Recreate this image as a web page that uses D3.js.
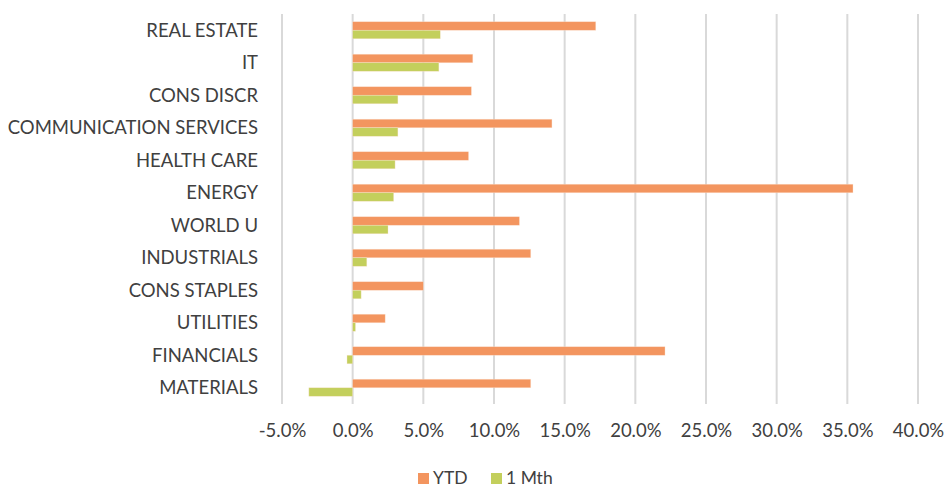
<!DOCTYPE html>
<html>
<head>
<meta charset="utf-8">
<script src="https://cdn.jsdelivr.net/npm/d3@7"></script>
<style>
    html, body { margin: 0; padding: 0; background: #fff; }
    svg text { font-family: Lato, "Noto Sans", sans-serif; fill: #404040; }
</style>
</head>
<body>
<svg id="chart" width="948" height="486"></svg>
<script>

// Sectors, top to bottom as they appear in the chart.
const categories = [
    'REAL ESTATE', 'IT', 'CONS DISCR', 'COMMUNICATION SERVICES', 'HEALTH CARE', 'ENERGY',
    'WORLD U', 'INDUSTRIALS', 'CONS STAPLES', 'UTILITIES', 'FINANCIALS', 'MATERIALS'
];

const seriesNames = ['YTD', '1 Mth'];

// Returns in percent.
const ytdValues = [17.2, 8.5, 8.4, 14.1, 8.2, 35.4, 11.8, 12.6, 5.0, 2.3, 22.1, 12.6];
const monthValues = [6.2, 6.1, 3.2, 3.2, 3.0, 2.9, 2.5, 1.0, 0.6, 0.2, -0.4, -3.1];

const tickValues = [-5, 0, 5, 10, 15, 20, 25, 30, 35, 40];

const colours = { 'YTD': '#f3955f', '1 Mth': '#c3cf5c' };

const svg = d3.select('#chart');

const x = d3.scaleLinear().domain([-5, 40]).range([282, 918]);

const y = d3.scaleBand().domain(categories).range([14, 404]);

// Two bars per band, packed in the middle.
const ySub = d3.scaleBand().domain(seriesNames).range([0, y.bandwidth()]).paddingOuter(0.91);

// Vertical gridlines.
svg.append('g')
    .selectAll('line')
    .data(tickValues)
    .join('line')
    .attr('x1', d => x(d)).attr('x2', d => x(d))
    .attr('y1', 14).attr('y2', 404)
    .attr('stroke', '#d9d9d9')
    .attr('stroke-width', 2);

// Bars.
const rows = categories.map((name, i) => ({ name, values: { 'YTD': ytdValues[i], '1 Mth': monthValues[i] } }));

svg.append('g')
    .selectAll('g')
    .data(rows)
    .join('g')
    .attr('transform', d => `translate(0,${y(d.name)})`)
    .selectAll('rect')
    .data(d => seriesNames.map(s => ({ series: s, value: d.values[s] })))
    .join('rect')
    .attr('x', d => x(Math.min(0, d.value)))
    .attr('width', d => Math.abs(x(d.value) - x(0)))
    .attr('y', d => ySub(d.series))
    .attr('height', ySub.bandwidth())
    .attr('fill', d => colours[d.series])
    .attr('stroke', '#fbe3d0')
    .attr('stroke-opacity', 0.6)
    .attr('stroke-width', 0.6);

// Category labels on the left.
const yAxis = d3.axisLeft(y).tickSize(0).tickPadding(0);
svg.append('g')
    .attr('transform', 'translate(258,0)')
    .call(yAxis)
    .call(g => g.select('.domain').remove())
    .call(g => g.selectAll('text').attr('font-size', 18.5).attr('dy', '0.35em'));

// Percentage labels under the plot.
const xAxis = d3.axisBottom(x).tickValues(tickValues).tickSize(0).tickPadding(0)
    .tickFormat(d => d.toFixed(1) + '%');
svg.append('g')
    .attr('transform', 'translate(0,431)')
    .call(xAxis)
    .call(g => g.select('.domain').remove())
    .call(g => g.selectAll('text').attr('font-size', 18.5).attr('dy', '0.35em'));

// Legend.
const legend = svg.append('g').attr('transform', 'translate(418,478)');
const legendOffsets = [0, 73];
seriesNames.forEach((name, i) => {
    const item = legend.append('g').attr('transform', `translate(${legendOffsets[i]},0)`);
    item.append('rect').attr('x', 0).attr('y', -5).attr('width', 11).attr('height', 11).attr('fill', colours[name]);
    item.append('text').attr('x', 15).attr('dy', '0.35em').attr('font-size', 17.5).text(name);
});

</script>
</body>
</html>
